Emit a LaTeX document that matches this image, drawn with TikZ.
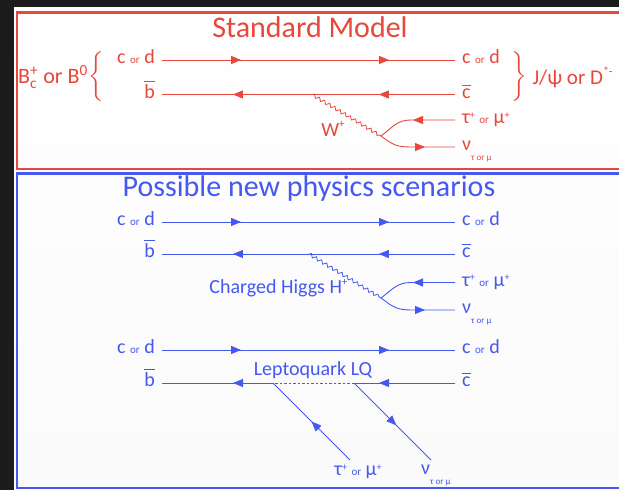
\documentclass[tikz,border=0pt]{standalone}
\usepackage{fontspec}
\setmainfont{Carlito}
\usepackage{amsmath}
\usepackage{tikz}
\usetikzlibrary{arrows.meta, positioning, decorations.markings, decorations.pathmorphing, calc}
\definecolor{smred}{HTML}{E8473B}
\definecolor{npblue}{HTML}{4558F0}
\definecolor{bgdark}{HTML}{1C1C1C}

\newcommand{\smallor}{{\fontsize{11}{11}\selectfont or}}
\newcommand{\plussup}{\raisebox{0.55ex}{\fontsize{10}{10}\selectfont +}}
\newcommand{\cord}{c \smallor{} d}
\newcommand{\qbar}[1]{$\overline{\text{#1}}$}
\newcommand{\lepton}{τ\plussup{} \smallor{} μ\plussup}
\newcommand{\nutaumu}{ν\raisebox{-1.0ex}{\fontsize{9}{9}\selectfont τ or μ}}

\tikzset{
  quark/.style={line width=0.9pt},
  lbl/.style={inner xsep=7pt, inner ysep=1pt, text height=7pt, text depth=0pt},
  arr2/.style 2 args={postaction={decorate}, decoration={markings,
      mark=at position #1 with {\arrow{Triangle[length=10pt,width=8pt]}},
      mark=at position #2 with {\arrow{Triangle[length=10pt,width=8pt]}}}},
  arr1/.style={postaction={decorate}, decoration={markings,
      mark=at position #1 with {\arrow{Triangle[length=10pt,width=8pt]}}}},
  arr1rev/.style={postaction={decorate}, decoration={markings,
      mark=at position #1 with {\arrowreversed{Triangle[length=10pt,width=8pt]}}}},
  boson/.style={decorate, decoration={snake, amplitude=1.6pt, segment length=6pt}, line width=0.8pt},
  title/.style={font=\fontsize{30}{30}\selectfont},
}

\begin{document}
\begin{tikzpicture}[x=1pt, y=-1pt, font=\fontsize{20}{20}\selectfont]
  \useasboundingbox (0,0) rectangle (619,490);
  \fill[bgdark] (0,0) rectangle (619,490);
  \shade[top color=white, bottom color=black!2] (14,7) rectangle (619,490);

  % Frames
  \draw[smred, line width=2.2pt] (17,12.5) rectangle (630,169);
  \draw[npblue, line width=2.2pt] (17,173.5) rectangle (630,488);

  % Standard Model
  \begin{scope}[color=smred]
    \node[title] (smtitle) at (310,27) {Standard Model};
    \node[lbl, anchor=east] (smq1) at (162,60) {\cord};
    \node[lbl, anchor=east] (smb1) at (162,94.5) {\qbar{b}};
    \node[lbl, anchor=west] (smq2) at (455,60) {\cord};
    \node[lbl, anchor=west] (smc2) at (455,94.5) {\qbar{c}};
    \draw[quark, arr2={0.27}{0.775}] (smq1) -- (smq2);
    \draw[quark, arr2={0.26}{0.758}] (smc2) -- (smb1);
    \node[font=\fontsize{22}{22}\selectfont] (bmes) at (53,77) {B$^{\text{+}}_{\text{c}}$ or B$^{\text{0}}$};
    \node (brL) at (97,77.5) {$\left\{\vphantom{\rule[-21pt]{0pt}{42pt}}\right.$};
    \node (brR) at (519,77.5) {$\left.\vphantom{\rule[-21pt]{0pt}{42pt}}\right\}$};
    \node[anchor=west, font=\fontsize{21}{21}\selectfont] (jpsi) at (529,77) {J/ψ or D\raisebox{0.9ex}{\fontsize{12}{12}\selectfont *-}};
    \coordinate (smw) at (312,94.5);
    \coordinate (smf) at (381,136);
    \draw[boson] (smw) -- (smf);
    \node (wlab) at (333,129) {W\raisebox{0.9ex}{\fontsize{11}{11}\selectfont +}};
    \node[lbl, anchor=west] (smtau) at (455,120) {\lepton};
    \node[lbl, anchor=west] (smnu) at (455,147) {\nutaumu};
    \draw[quark, arr1=42pt] (smtau.west) -- ++(-44,0) .. controls +(-14,0) and +(12,-9) .. (smf);
    \draw[quark, arr1rev=30pt] (smnu.west) -- ++(-44,0) .. controls +(-14,0) and +(12,9) .. (smf);
  \end{scope}

  % Charged Higgs
  \begin{scope}[color=npblue]
    \node[title] (nptitle) at (309,188) {Possible new physics scenarios};
    \node[lbl, anchor=east] (hq1) at (162,222) {\cord};
    \node[lbl, anchor=east] (hb1) at (162,254) {\qbar{b}};
    \node[lbl, anchor=west] (hq2) at (455,222) {\cord};
    \node[lbl, anchor=west] (hc2) at (455,254) {\qbar{c}};
    \draw[quark, arr2={0.27}{0.775}] (hq1) -- (hq2);
    \draw[quark, arr2={0.26}{0.758}] (hc2) -- (hb1);
    \coordinate (hw) at (309,254);
    \coordinate (hf) at (381,298);
    \draw[boson] (hw) -- (hf);
    \node[anchor=east] (hlab) at (351,288) {Charged Higgs H\raisebox{0.9ex}{\fontsize{11}{11}\selectfont +}};
    \node[lbl, anchor=west] (htau) at (455,282.5) {\lepton};
    \node[lbl, anchor=west] (hnu) at (455,310) {\nutaumu};
    \draw[quark, arr1=42pt] (htau.west) -- ++(-44,0) .. controls +(-14,0) and +(12,-9) .. (hf);
    \draw[quark, arr1rev=30pt] (hnu.west) -- ++(-44,0) .. controls +(-14,0) and +(12,9) .. (hf);

    % Leptoquark
    \node[lbl, anchor=east] (lq1) at (162,350) {\cord};
    \node[lbl, anchor=east] (lb1) at (162,383) {\qbar{b}};
    \node[lbl, anchor=west] (lq2) at (455,350) {\cord};
    \node[lbl, anchor=west] (lc2) at (455,383) {\qbar{c}};
    \draw[quark, arr2={0.27}{0.775}] (lq1) -- (lq2);
    \coordinate (va) at (273,383);
    \coordinate (vb) at (354,383);
    \draw[quark, arr1=76pt] (lc2) -- (vb);
    \draw[quark, dash pattern=on 2.5pt off 2pt] (vb) -- (va);
    \draw[quark, arr1=40pt] (va) -- (lb1);
    \node (lqlab) at (313,370) {Leptoquark LQ};
    \coordinate (ta) at (350,460);
    \coordinate (nb) at (431,460);
    \draw[quark, arr1=0.5] (ta) -- (va);
    \draw[quark, arr1=0.55] (vb) -- (nb);
    \node[lbl, inner xsep=0pt] (lqtau) at (358,472) {\lepton};
    \node[lbl, inner xsep=0pt, anchor=west] (lqnu) at (421,471) {\nutaumu};
  \end{scope}
\end{tikzpicture}
\end{document}
